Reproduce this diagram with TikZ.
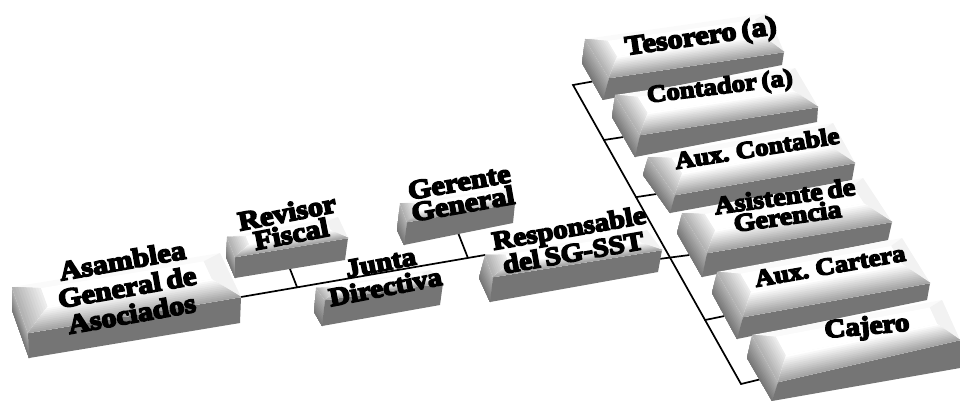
\documentclass[tikz,border=0pt]{standalone}
\usepackage{fontspec}
\newfontfamily\lbl{Liberation Serif}[UprightFont=* Bold,FakeBold=6,FakeStretch=1.12,WordSpace=0.7]
\usetikzlibrary{calc,backgrounds}
\tikzset{
  link/.style={draw=black,line width=1.7pt,line cap=round,line join=miter},
  boxtext/.style={align=center,inner sep=0pt,text=black,font=\lbl\fontsize{\lblsize}{#1}\selectfont},
  boxtext/.default=25,
  lblsz/.code={\def\lblsize{#1}},
  lblsz=26
}
% name, A(back left), B(back right), C(front right), D(front left), lb, fbl, Cb, u inset
\newcommand{\bevelbox}[9]{%
  \coordinate (#1-A) at (#2); \coordinate (#1-B) at (#3);
  \coordinate (#1-C) at (#4); \coordinate (#1-D) at (#5);
  \coordinate (#1-L) at (#6); \coordinate (#1-F) at (#7);
  \coordinate (#1-R) at (#8);
  \coordinate (#1-a) at ($($(#1-A)!#9!(#1-B)$)!.12!($(#1-D)!#9!(#1-C)$)$);
  \coordinate (#1-d) at ($($(#1-A)!#9!(#1-B)$)!.52!($(#1-D)!#9!(#1-C)$)$);
  \coordinate (#1-b) at ($($(#1-B)!#9*.7!(#1-A)$)!.12!($(#1-C)!#9*.7!(#1-D)$)$);
  \coordinate (#1-c) at ($($(#1-B)!#9*.7!(#1-A)$)!.52!($(#1-C)!#9*.7!(#1-D)$)$);
  \foreach \t in {0,.1,...,1.01}{%
    \pgfmathsetmacro\g{30+25*\t}%
    \fill[black!\g!white] ($(#1-A)!\t!(#1-L)$) -- ($(#1-D)!\t!(#1-F)$) -- (#1-F) -- (#1-L) -- cycle;
  }
  \fill[black!54] (#1-D) -- (#1-C) -- (#1-R) -- (#1-F) -- cycle;
  \fill[black!2] (#1-A) -- (#1-B) -- (#1-C) -- (#1-D) -- cycle;
  \foreach \t in {0,.1,...,1.01}{%
    \pgfmathsetmacro\g{7+25*\t}%
    \fill[black!\g!white] ($(#1-a)!\t!(#1-A)$) -- ($(#1-d)!\t!(#1-D)$) -- (#1-D) -- (#1-A) -- cycle;
  }
  \fill[black!5] (#1-b) -- (#1-B) -- (#1-C) -- (#1-c) -- cycle;
  \fill[white] (#1-a) -- (#1-b) -- (#1-c) -- (#1-d) -- cycle;
  \foreach \t in {0,.08,...,1.01}{%
    \pgfmathsetmacro\g{38*\t}%
    \fill[black!\g!white] ($(#1-d)!\t!(#1-D)$) -- ($(#1-c)!\t!(#1-C)$) -- (#1-C) -- (#1-D) -- cycle;
  }
}
\begin{document}
\begin{tikzpicture}[x=1pt,y=-1pt]
\useasboundingbox (0,0) rectangle (960,401);
\bevelbox{asamblea}{12,287}{220,253}{241,297}{28,333}{12,310}{29,358}{240,323}{.13}
\bevelbox{revisor}{227,237}{338,217}{348,238}{235,257}{226,257}{235,278}{345,260}{.16}
\bevelbox{junta}{316,288}{430,270}{443,283}{325,300}{314,312}{322,326}{440,305}{.12}
\bevelbox{gerente}{400,203}{510,188}{515,203}{407,222}{397,230}{404,245}{513,223}{.13}
\bevelbox{resp}{485,255}{647,230}{662,250}{493,277}{479,278}{490,302}{658,272}{.12}
\bevelbox{tesorero}{585,39}{767,13}{784,52}{609,78}{582,63}{603,100}{782,65}{.11}
\bevelbox{contador}{615,95}{795,68}{818,107}{640,135}{612,117}{635,157}{817,122}{.11}
\bevelbox{auxcont}{648,157}{833,123}{855,163}{675,195}{643,175}{670,213}{852,180}{.11}
\bevelbox{asist}{682,213}{863,178}{892,222}{707,253}{677,233}{702,277}{888,240}{.11}
\bevelbox{cartera}{717,272}{902,238}{930,283}{743,317}{712,293}{737,339}{927,300}{.11}
\bevelbox{cajero}{752,335}{942,300}{960,340}{778,382}{747,358}{772,401}{960,368}{.11}
\coordinate (s1) at (573,85);
\coordinate (s6) at (741,384);
\begin{scope}[on background layer]
  \draw[link] (asamblea-C) -- (resp-A);
  \draw[link] ($(revisor-F)!.5!(revisor-R)$) -- ($(asamblea-C)!.23!(resp-A)$);
  \draw[link] ($(gerente-F)!.5!(gerente-R)$) -- ($(asamblea-C)!.93!(resp-A)$);
  \draw[link] ($(tesorero-L)!.5!(tesorero-F)$) -- (s1) -- (s6) -- ($(cajero-L)!.5!(cajero-F)$);
  \draw[link] ($(s1)!.184!(s6)$) -- ($(contador-L)!.5!(contador-F)$);
  \draw[link] ($(s1)!.375!(s6)$) -- ($(auxcont-L)!.5!(auxcont-F)$);
  \draw[link] ($(resp-C)!.4!(resp-R)$) -- ($(asist-L)!.5!(asist-F)$);
  \draw[link] ($(s1)!.786!(s6)$) -- ($(cartera-L)!.5!(cartera-F)$);
\end{scope}
\node[lblsz=27,boxtext=27,rotate=10] (t1) at (127,287) {Asamblea\\General de\\Asociados};
\node[lblsz=27,boxtext=22,rotate=11] (t2) at (289,223) {Revisor\\Fiscal};
\node[boxtext=25,rotate=11] (t3) at (383,275) {Junta\\Directiva};
\node[lblsz=27,boxtext=22,rotate=10] (t4) at (461,193) {Gerente\\General};
\node[boxtext=25,rotate=10] (t5) at (571,240) {Responsable\\del SG-SST};
\node[lblsz=27,boxtext,rotate=8] (t6) at (701,38) {Tesorero (a)};
\node[lblsz=24,boxtext,rotate=7] (t7) at (720,88) {Contador (a)};
\node[lblsz=24,boxtext,rotate=9] (t8) at (757,148) {Aux. Contable};
\node[lblsz=25,boxtext=20,rotate=8] (t9) at (786,206) {Asistente de\\Gerencia};
\node[lblsz=24,boxtext,rotate=10] (t10) at (830,266) {Aux. Cartera};
\node[boxtext,rotate=5] (t11) at (867,328) {Cajero};
\end{tikzpicture}
\end{document}
